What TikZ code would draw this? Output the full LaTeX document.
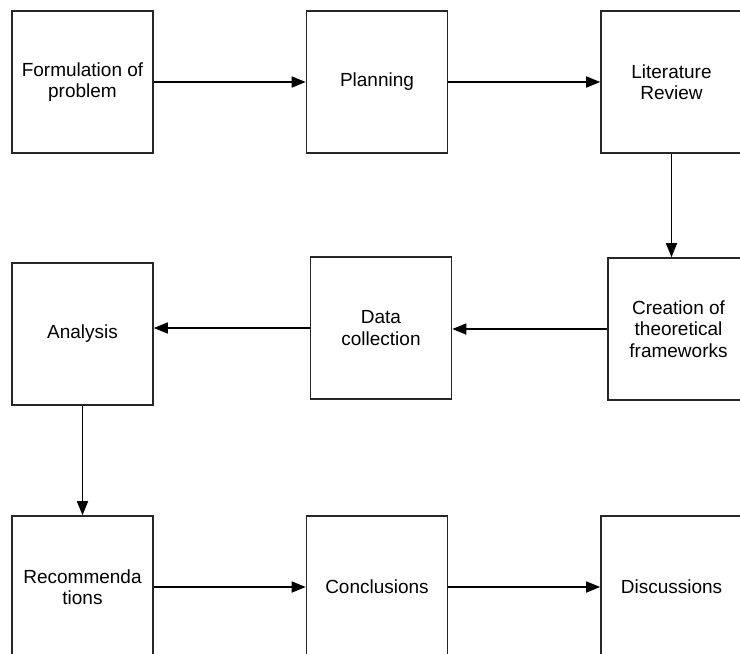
\documentclass[tikz,border=0pt]{standalone}
\usepackage{fontspec}
\setmainfont{Liberation Sans}
\usetikzlibrary{arrows.meta}
\tikzset{
  stagebox/.style={draw=black!85,line width=1.6pt,minimum width=141pt,minimum height=142pt,
    inner sep=0pt,align=center,font=\fontsize{19}{21.5}\selectfont},
  flow/.style={line width=1.6pt,-{Triangle[length=14pt,width=11pt]}}
}
\begin{document}
\begin{tikzpicture}[x=1pt,y=-1pt]
    \useasboundingbox (0,0) rectangle (740,654);
    \clip (0,0) rectangle (740,654);
    \node (form) at (82.5,82) [stagebox] {Formulation of\\problem};
    \node (plan) at (377,82) [stagebox] {Planning};
    \node (lit) at (671.5,82) [stagebox] {Literature\\Review};
    \node (ana) at (82.5,334) [stagebox] {Analysis};
    \node (data) at (381,328) [stagebox] {Data\\collection};
    \node (crea) at (678.5,329) [stagebox] {Creation of\\theoretical\\frameworks};
    \node (rec) at (82.5,587) [stagebox] {Recommenda\\tions};
    \node (conc) at (377,587) [stagebox] {Conclusions};
    \node (disc) at (671.5,587) [stagebox] {Discussions};
   \draw[flow] (form) -- (plan);
   \draw[flow] (plan) -- (lit);
   \draw[flow] (lit.south) -- (lit.south |- crea.north);
   \draw[flow] (crea.west) -- (crea.west -| data.east);
   \draw[flow] (data.west) -- (data.west -| ana.east);
   \draw[flow] (ana) -- (rec);
   \draw[flow] (rec) -- (conc);
   \draw[flow] (conc) -- (disc);
  \end{tikzpicture}
\end{document}
